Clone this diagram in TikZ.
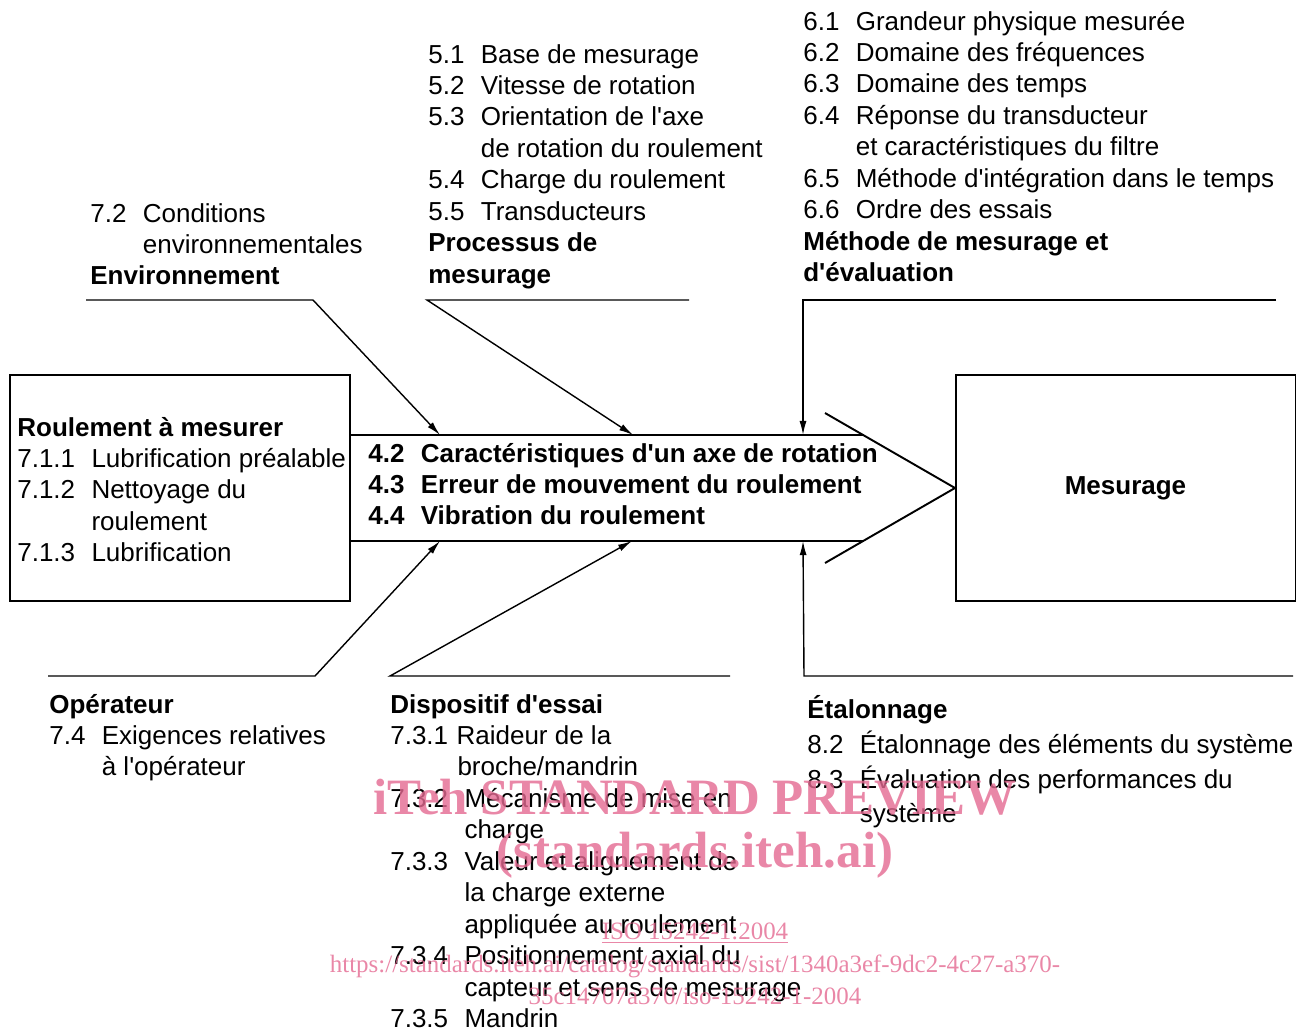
\documentclass[tikz,border=0pt]{standalone}
\usepackage{fontspec}
\setmainfont{Liberation Sans}
\newfontfamily\wmfont{Liberation Serif}
\usepackage{xcolor}
\usetikzlibrary{arrows.meta,positioning}
\definecolor{wmpink}{RGB}{228,105,145}
\newcommand\hd[1]{\multicolumn{2}{@{}l@{}}{\bfseries #1}}
\newcommand\ap{\textquotesingle}

\begin{document}
\begin{tikzpicture}[x=0.02cm, y=-0.02cm]
    % Define styles
    \tikzstyle{partbox} = [rectangle, draw=black, line width=1.1pt, inner sep=0pt, minimum width=6.8cm, minimum height=4.52cm]
    \tikzstyle{blocktxt} = [anchor=base west, inner sep=0pt, font=\fontsize{14.8}{17.9}\selectfont]
    \tikzstyle{boldtxt} = [blocktxt, font=\fontsize{14.8}{17.9}\selectfont\bfseries]
    \tikzstyle{spine} = [line width=1.1pt]
    \tikzstyle{bone} = [line width=0.8pt, -{Latex[length=8pt, width=4pt]}]
    \tikzstyle{wm} = [text=wmpink, opacity=0.8, inner sep=0pt]

    \useasboundingbox (0,0) rectangle (1305,1032);

    % Boxes
    \node[partbox] (roul) at (180,488) {};
    \node[partbox, font=\fontsize{14.8}{17.9}\selectfont\bfseries] (mes) at (1125.5,488) {Mesurage};

    % Main arrow
    \coordinate (sTL) at (350,435);
    \coordinate (sTR) at (863,435);
    \coordinate (sBL) at (350,541);
    \coordinate (sBR) at (863,541);
    \coordinate (hTop) at (825,413);
    \coordinate (tip) at (955,488);
    \coordinate (hBot) at (825,563);
    \draw[spine] (sTL) -- (sTR);
    \draw[spine] (sBL) -- (sBR);
    \draw[spine] (hTop) -- (tip) -- (hBot);

    % Bones
    \coordinate (envA) at (86,300);
    \coordinate (envB) at (313,300);
    \coordinate (envT) at (440,435);
    \coordinate (procA) at (689,300);
    \coordinate (procB) at (427,300);
    \coordinate (procT) at (633,435);
    \coordinate (methA) at (1276,300);
    \coordinate (methB) at (803,300);
    \coordinate (methT) at (803,435);
    \coordinate (operA) at (48,676);
    \coordinate (operB) at (315,676);
    \coordinate (operT) at (440,541);
    \coordinate (dispA) at (730,676);
    \coordinate (dispB) at (390,676);
    \coordinate (dispT) at (632,541);
    \coordinate (etalA) at (1293,676);
    \coordinate (etalB) at (804,676);
    \coordinate (etalT) at (803,541);
    \draw[bone] (envA) -- (envB) -- (envT);
    \draw[bone] (procA) -- (procB) -- (procT);
    \draw[bone] (methA) -- (methB) -- (methT);
    \draw[bone] (operA) -- (operB) -- (operT);
    \draw[bone] (dispA) -- (dispB) -- (dispT);
    \draw[bone] (etalA) -- (etalB) -- (etalT);

    % Texts
    \node[boldtxt] (carac) at (368,462) {\begin{tabular}[t]{@{}l@{\hspace{9.3pt}}l@{}}
        4.2 & Caractéristiques d\ap un axe de rotation\\
        4.3 & Erreur de mouvement du roulement\\
        4.4 & Vibration du roulement
    \end{tabular}};
    \node[blocktxt] (roultxt) at (17,436) {\begin{tabular}[t]{@{}l@{\hspace{9.3pt}}l@{}}
        \hd{Roulement à mesurer}\\
        7.1.1 & Lubrification préalable\\
        7.1.2 & Nettoyage du\\
              & roulement\\
        7.1.3 & Lubrification
    \end{tabular}};
    \node[blocktxt] (envtxt) at (90,222) {\begin{tabular}[t]{@{}l@{\hspace{9.3pt}}l@{}}
        7.2 & Conditions\\
            & environnementales\\
        \hd{Environnement}
    \end{tabular}};
    \node[blocktxt] (proctxt) at (428,63) {\begin{tabular}[t]{@{}l@{\hspace{9.3pt}}l@{}}
        5.1 & Base de mesurage\\
        5.2 & Vitesse de rotation\\
        5.3 & Orientation de l\ap axe\\
            & de rotation du roulement\\
        5.4 & Charge du roulement\\
        5.5 & Transducteurs\\
        \hd{Processus de}\\
        \hd{mesurage}
    \end{tabular}};
    \node[blocktxt] (methtxt) at (803,30) {\begin{tabular}[t]{@{}l@{\hspace{9.3pt}}l@{}}
        6.1 & Grandeur physique mesurée\\
        6.2 & Domaine des fréquences\\
        6.3 & Domaine des temps\\
        6.4 & Réponse du transducteur\\
            & et caractéristiques du filtre\\
        6.5 & Méthode d\ap intégration dans le temps\\
        6.6 & Ordre des essais\\
        \hd{Méthode de mesurage et}\\
        \hd{d\ap évaluation}
    \end{tabular}};
    \node[blocktxt] (opertxt) at (49,713) {\begin{tabular}[t]{@{}l@{\hspace{9.3pt}}l@{}}
        \hd{Opérateur}\\
        7.4 & Exigences relatives\\
            & à l\ap opérateur
    \end{tabular}};
    \node[blocktxt] (disptxt) at (390,713) {\begin{tabular}[t]{@{}l@{\hspace{9.3pt}}l@{}}
        \hd{Dispositif d\ap essai}\\
        7.3.1 & \hspace*{-4.5pt}Raideur de la\\
              & \hspace*{-4pt}broche/mandrin\\
        7.3.2 & Mécanisme de mise en\\
              & charge\\
        7.3.3 & Valeur et alignement de\\
              & la charge externe\\
              & appliquée au roulement\\
        7.3.4 & Positionnement axial du\\
              & capteur et sens de mesurage\\
        7.3.5 & Mandrin
    \end{tabular}};
    \node[blocktxt] (etaltxt) at (807,718) {\begin{tabular}[t]{@{}l@{\hspace{9.3pt}}l@{}}
        \hd{Étalonnage}\\[1.8pt]
        8.2 & Étalonnage des éléments du système\\[1.8pt]
        8.3 & Évaluation des performances du\\[1.8pt]
            & système
    \end{tabular}};

    % Watermark
    \node[wm, font=\wmfont\bfseries\fontsize{29}{29}\selectfont] (wmA) at (695,797) {iTeh STANDARD PREVIEW};
    \node[wm, font=\wmfont\bfseries\fontsize{29}{29}\selectfont] (wmB) at (695,855) {(standards.iteh.ai)};
    \node[wm, font=\wmfont\fontsize{14.2}{16}\selectfont] (wmC) at (695,933) {\underline{ISO 15242-1:2004}};
    \node[wm, font=\wmfont\fontsize{14.2}{16}\selectfont] (wmD) at (695,966) {https://standards.iteh.ai/catalog/standards/sist/1340a3ef-9dc2-4c27-a370-};
    \node[wm, font=\wmfont\fontsize{14.2}{16}\selectfont] (wmE) at (695,996) {35c14707a370/iso-15242-1-2004};
\end{tikzpicture}
\end{document}
